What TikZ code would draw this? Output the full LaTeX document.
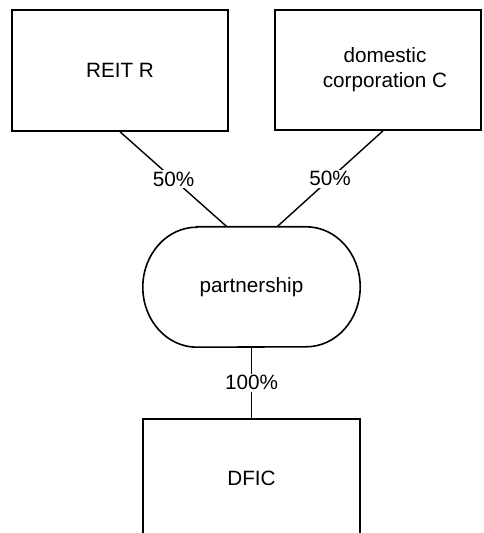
\documentclass[tikz,border=0pt]{standalone}
\usepackage{fontspec}
\setmainfont{Liberation Sans}
\usetikzlibrary{calc}
\begin{document}
\begin{tikzpicture}[x=1pt,y=1pt,
  entity/.style={draw, line width=1.6pt, rectangle, inner sep=0pt,
    font=\fontsize{20.7}{24.8}\selectfont, align=center},
  pship/.style={rectangle, inner sep=0pt, minimum width=217pt, minimum height=120pt,
    font=\fontsize{20.7}{24.8}\selectfont},
  link/.style={line width=1.4pt},
  share/.style={fill=white, inner sep=1.5pt, font=\fontsize{20.7}{24.8}\selectfont}
]
\useasboundingbox (0,0) rectangle (483,533);

\node[entity, minimum width=216pt, minimum height=121pt] (reit) at (120,462.5) {REIT R};
\node[entity, minimum width=206pt, minimum height=120pt] (dom) at (378,463) {};
\node[font=\fontsize{20.7}{24.8}\selectfont, align=center, inner sep=0pt] (domtext) at (385,463) {domestic\\corporation C};
\node[pship] (part) at (251.5,246) {partnership};
\node[entity, minimum width=217pt, minimum height=118pt] (dfic) at (251.5,55) {DFIC};

% partnership outline: straight top and bottom, half-ellipse ends
\draw[line width=1.6pt]
  ($(part.north west)+(54,0)$) -- ($(part.north east)+(-54,0)$)
  arc[start angle=90, end angle=-90, x radius=54pt, y radius=60pt]
  -- ($(part.south west)+(54,0)$)
  arc[start angle=270, end angle=90, x radius=54pt, y radius=60pt] -- cycle;

\draw[link] (reit.south) -- node[share] {50\%} ($(part.north)+(-24.5,0)$);
\draw[link] ($(dom.south)+(5,0)$) -- node[share] {50\%} ($(part.north)+(25.5,0)$);
\draw[link] (part.south) -- node[share] {100\%} (dfic.north);
\end{tikzpicture}
\end{document}
